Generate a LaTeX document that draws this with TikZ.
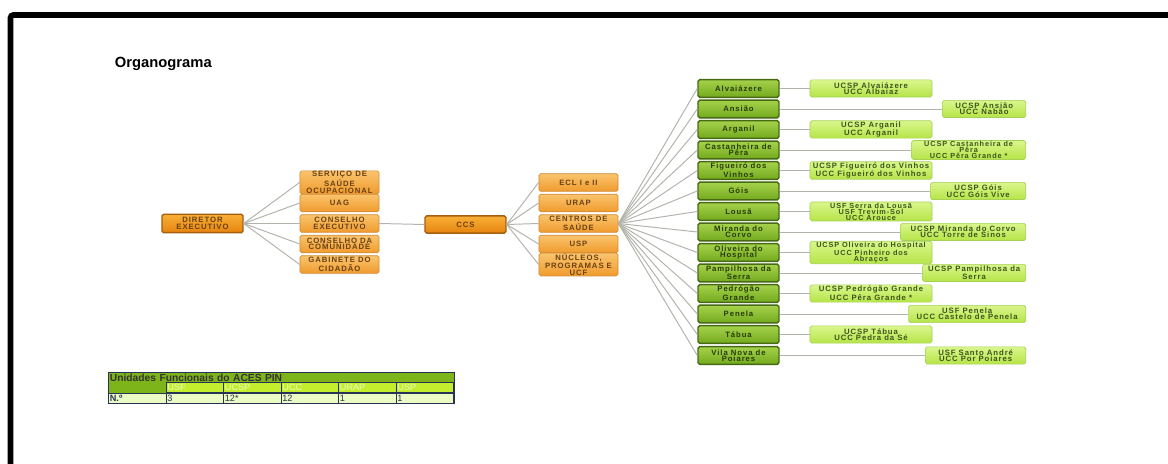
\documentclass[tikz,border=0pt]{standalone}
\usepackage{fontspec}
\setmainfont{Liberation Sans}
\newfontfamily\boxfont[LetterSpace=12]{Liberation Sans}
\definecolor{orTop}{RGB}{250,196,110}
\definecolor{orBot}{RGB}{240,155,45}
\definecolor{orLine}{RGB}{210,140,55}
\definecolor{orText}{RGB}{105,65,20}
\definecolor{dirTop}{RGB}{248,175,55}
\definecolor{dirBot}{RGB}{230,132,15}
\definecolor{dirLine}{RGB}{165,95,15}
\definecolor{gTop}{RGB}{165,210,75}
\definecolor{gBot}{RGB}{115,170,30}
\definecolor{gLine}{RGB}{70,105,20}
\definecolor{gText}{RGB}{40,60,10}
\definecolor{lfTop}{RGB}{218,246,140}
\definecolor{lfBot}{RGB}{182,228,72}
\definecolor{lfLine}{RGB}{165,210,85}
\definecolor{lfText}{RGB}{60,85,30}
\definecolor{linkGray}{RGB}{178,180,172}
\definecolor{tabDark}{RGB}{125,180,25}
\definecolor{tabMid}{RGB}{195,238,45}
\definecolor{tabLight}{RGB}{236,250,195}
\definecolor{tabLine}{RGB}{40,50,85}
\tikzset{
  box/.style={rectangle, rounded corners=1.2pt, align=center, inner sep=0.5pt,
    font=\boxfont\bfseries\fontsize{5.5}{4.6}\selectfont},
  dirbox/.style={box, top color=dirTop, bottom color=dirBot, draw=dirLine, line width=1pt,
    text=orText, minimum width=2.025cm, minimum height=0.46cm},
  orbox/.style={box, top color=orTop, bottom color=orBot, draw=orLine, line width=0.5pt,
    text=orText, minimum width=1.975cm, minimum height=0.44cm},
  munbox/.style={box, top color=gTop, bottom color=gBot, draw=gLine, line width=1pt,
    text=gText, minimum width=2.025cm, minimum height=0.44cm},
  leafbox/.style={box, top color=lfTop, bottom color=lfBot, draw=lfLine, line width=0.5pt,
    text=lfText, minimum height=0.43cm},
  leafL/.style={leafbox, minimum width=3.05cm},
  leafR/.style={leafbox, anchor=east},
  link/.style={draw=linkGray, line width=0.7pt},
  cell/.style={draw=tabLine, line width=0.7pt, anchor=north west, inner xsep=1pt, inner ysep=0pt,
    text width=1.367cm, minimum height=0.26cm, align=left, font=\fontsize{6.5}{6.5}\selectfont},
}
\begin{document}
\begin{tikzpicture}[x=0.025cm,y=-0.025cm]
\useasboundingbox (0,0) rectangle (1168,464);
\draw [line width=4pt, rounded corners=2pt] (10.5,470) -- (10.5,15) -- (1175,15);
\node [anchor=base west, font=\bfseries\fontsize{10.5}{12}\selectfont] (title) at (110,68) {Organograma};
% direcao
\node [dirbox] (dir) at (202.5,223.5) {DIRETOR\\EXECUTIVO};
\node [orbox] (sso) at (339.5,182.5) {SERVIÇO DE\\SAÚDE\\OCUPACIONAL};
\node [orbox] (uag) at (339.5,203) {UAG};
\node [orbox] (cex) at (339.5,223.5) {CONSELHO\\EXECUTIVO};
\node [orbox] (ccom) at (339.5,244) {CONSELHO DA\\COMUNIDADE};
\node [orbox] (gab) at (339.5,264.5) {GABINETE DO\\CIDADÃO};
\node [dirbox, minimum height=0.43cm] (ccs) at (465.5,224.5) {CCS};
\node [orbox] (ecl) at (578.5,182.5) {ECL I e II};
\node [orbox] (urap) at (578.5,203) {URAP};
\node [orbox] (cs) at (578.5,223.5) {CENTROS DE\\SAÚDE};
\node [orbox] (usp) at (578.5,244) {USP};
\node [orbox] (nuc) at (578.5,264.5) {NÚCLEOS,\\PROGRAMAS E\\UCF};
\draw [link] (dir.east) -- (sso.west);
\draw [link] (dir.east) -- (uag.west);
\draw [link] (dir.east) -- (cex.west);
\draw [link] (dir.east) -- (ccom.west);
\draw [link] (dir.east) -- (gab.west);
\draw [link] (cex.east) -- (ccs.west);
\draw [link] (ccs.east) -- (ecl.west);
\draw [link] (ccs.east) -- (urap.west);
\draw [link] (ccs.east) -- (cs.west);
\draw [link] (ccs.east) -- (usp.west);
\draw [link] (ccs.east) -- (nuc.west);
% centros de saude
\node [munbox] (alv) at (738.5,88.5) {Alvaiázere};
\node [munbox] (ans) at (738.5,109) {Ansião};
\node [munbox] (arg) at (738.5,129.5) {Arganil};
\node [munbox] (cas) at (738.5,150) {Castanheira de\\Pêra};
\node [munbox] (fig) at (738.5,170.5) {Figueiró dos\\Vinhos};
\node [munbox] (goi) at (738.5,191) {Góis};
\node [munbox] (lou) at (738.5,211.5) {Lousã};
\node [munbox] (mir) at (738.5,232) {Miranda do\\Corvo};
\node [munbox] (oli) at (738.5,252.5) {Oliveira do\\Hospital};
\node [munbox] (pam) at (738.5,273) {Pampilhosa da\\Serra};
\node [munbox] (ped) at (738.5,293.5) {Pedrógão\\Grande};
\node [munbox] (pen) at (738.5,314) {Penela};
\node [munbox] (tab) at (738.5,334.5) {Tábua};
\node [munbox] (vnp) at (738.5,355.5) {Vila Nova de\\Poiares};
\draw [link] (cs.east) -- (alv.west);
\draw [link] (cs.east) -- (ans.west);
\draw [link] (cs.east) -- (arg.west);
\draw [link] (cs.east) -- (cas.west);
\draw [link] (cs.east) -- (fig.west);
\draw [link] (cs.east) -- (goi.west);
\draw [link] (cs.east) -- (lou.west);
\draw [link] (cs.east) -- (mir.west);
\draw [link] (cs.east) -- (oli.west);
\draw [link] (cs.east) -- (pam.west);
\draw [link] (cs.east) -- (ped.west);
\draw [link] (cs.east) -- (pen.west);
\draw [link] (cs.east) -- (tab.west);
\draw [link] (cs.east) -- (vnp.west);
% unidades
\node [leafL] (alvU) at (871,88.5) {UCSP Alvaiázere\\UCC Albaiaz};
\node [leafR, minimum width=2.075cm] (ansU) at (1026,109) {UCSP Ansião\\UCC Nabão};
\node [leafL] (argU) at (871,129.5) {UCSP Arganil\\UCC Arganil};
\node [leafR, minimum width=2.85cm, font=\boxfont\bfseries\fontsize{5.2}{4.3}\selectfont] (casU) at (1026,150) {UCSP Castanheira de\\Pêra\\UCC Pêra Grande *};
\node [leafL] (figU) at (871,170.5) {UCSP Figueiró dos Vinhos\\UCC Figueiró dos Vinhos};
\node [leafR, minimum width=2.375cm] (goiU) at (1026,191) {UCSP Góis\\UCC Góis Vive};
\node [leafL, font=\boxfont\bfseries\fontsize{5.2}{4.3}\selectfont] (louU) at (871,211.5) {USF Serra da Lousã\\USF Trevim-Sol\\UCC Arouce};
\node [leafR, minimum width=3.125cm] (mirU) at (1026,232) {UCSP Miranda do Corvo\\UCC Torre de Sinos};
\node [leafL, font=\boxfont\bfseries\fontsize{5.2}{4.3}\selectfont] (oliU) at (871,252.5) {UCSP Oliveira do Hospital\\UCC Pinheiro dos\\Abraços};
\node [leafR, minimum width=2.575cm] (pamU) at (1026,273) {UCSP Pampilhosa da\\Serra};
\node [leafL] (pedU) at (871,293.5) {UCSP Pedrógão Grande\\UCC Pêra Grande *};
\node [leafR, minimum width=2.925cm] (penU) at (1026,314) {USF Penela\\UCC Castelo de Penela};
\node [leafL] (tabU) at (871,334.5) {UCSP Tábua\\UCC Pedra da Sé};
\node [leafR, minimum width=2.5cm] (vnpU) at (1026,355.5) {USF Santo André\\UCC Por Poiares};
\draw [link] (alv.east) -- (alvU.west);
\draw [link] (ans.east) -- (ansU.west);
\draw [link] (arg.east) -- (argU.west);
\draw [link] (cas.east) -- (casU.west);
\draw [link] (fig.east) -- (figU.west);
\draw [link] (goi.east) -- (goiU.west);
\draw [link] (lou.east) -- (louU.west);
\draw [link] (mir.east) -- (mirU.west);
\draw [link] (oli.east) -- (oliU.west);
\draw [link] (pam.east) -- (pamU.west);
\draw [link] (ped.east) -- (pedU.west);
\draw [link] (pen.east) -- (penU.west);
\draw [link] (tab.east) -- (tabU.west);
\draw [link] (vnp.east) -- (vnpU.west);
% tabela
\node [cell, fill=tabDark, draw=tabDark, text width=8.555cm, minimum height=0.25cm, font=\bfseries\fontsize{7.3}{7.3}\selectfont, text=black!80] (thead) at (108,372) {Unidades Funcionais do ACES PIN};
\node [cell, fill=tabDark, draw=tabDark] (tcorner) at (108,382) {};
\node [cell, fill=tabMid, text=tabLight] (tusf) at (165.5,382) {USF};
\node [cell, fill=tabMid, text=tabLight] (tucsp) at (223,382) {UCSP};
\node [cell, fill=tabMid, text=tabLight] (tucc) at (280.5,382) {UCC};
\node [cell, fill=tabMid, text=tabLight] (turap) at (338,382) {URAP};
\node [cell, fill=tabMid, text=tabLight] (tusp) at (395.5,382) {USP};
\node [cell, fill=tabLight, text=tabLine, font=\bfseries\fontsize{6.5}{6.5}\selectfont] (tnum) at (108,392.5) {N.º};
\node [cell, fill=tabLight, text=tabLine] (nusf) at (165.5,392.5) {3};
\node [cell, fill=tabLight, text=tabLine] (nucsp) at (223,392.5) {12*};
\node [cell, fill=tabLight, text=tabLine] (nucc) at (280.5,392.5) {12};
\node [cell, fill=tabLight, text=tabLine] (nurap) at (338,392.5) {1};
\node [cell, fill=tabLight, text=tabLine] (nusp) at (395.5,392.5) {1};
\draw [draw=tabLine, line width=0.7pt] (thead.north west) rectangle (nusp.south east);
\end{tikzpicture}
\end{document}
